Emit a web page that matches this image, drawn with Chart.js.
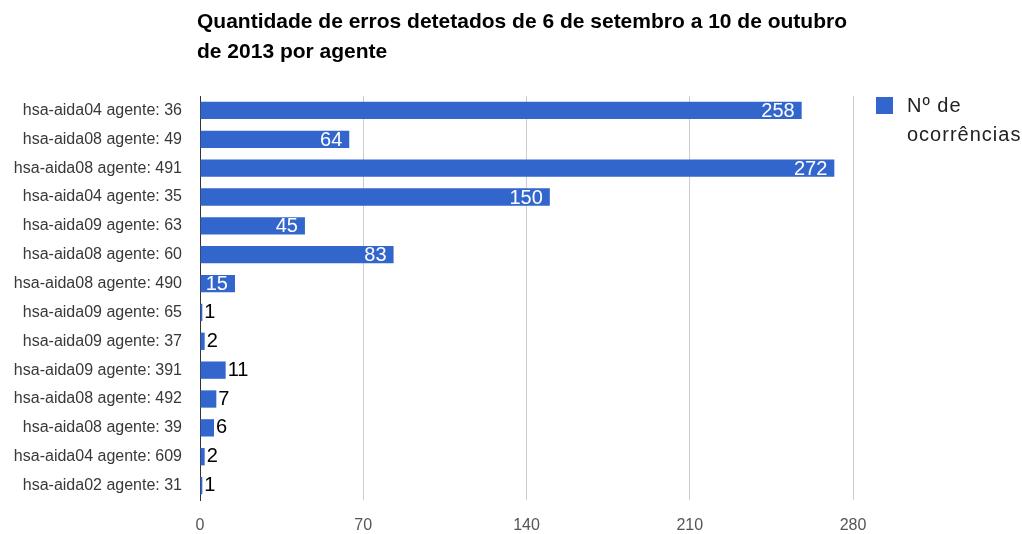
<!DOCTYPE html>
<html>
<head>
<meta charset="utf-8">
<script src="https://cdn.jsdelivr.net/npm/chart.js"></script>
<style>
  body { margin: 0; background: #fff; }
  canvas { display: block; }
</style>
</head>
<body>
<canvas id="errosChart" width="1022" height="534"></canvas>
<script>
// agentes e número de ocorrências (de cima para baixo)
const agentes = [
  "hsa-aida04 agente: 36",
  "hsa-aida08 agente: 49",
  "hsa-aida08 agente: 491",
  "hsa-aida04 agente: 35",
  "hsa-aida09 agente: 63",
  "hsa-aida08 agente: 60",
  "hsa-aida08 agente: 490",
  "hsa-aida09 agente: 65",
  "hsa-aida09 agente: 37",
  "hsa-aida09 agente: 391",
  "hsa-aida08 agente: 492",
  "hsa-aida08 agente: 39",
  "hsa-aida04 agente: 609",
  "hsa-aida02 agente: 31"
];
const ocorrencias = [258, 64, 272, 150, 45, 83, 15, 1, 2, 11, 7, 6, 2, 1];
const xTicks = [0, 70, 140, 210, 280];
const titulo = [
  "Quantidade de erros detetados de 6 de setembro a 10 de outubro",
  "de 2013 por agente"
];
const legenda = ["Nº de", "ocorrências"];

const AZUL = "#3366cc";
const FONTE = "'Liberation Sans', Arial, sans-serif";

// título, legenda e valores nas barras
const extras = {
  id: "extras",
  afterDatasetsDraw(chart) {
    const ctx = chart.ctx;
    const meta = chart.getDatasetMeta(0);
    ctx.save();
    ctx.font = "20px " + FONTE;
    ctx.textBaseline = "middle";
    meta.data.forEach((bar, i) => {
      const txt = String(ocorrencias[i]);
      const w = ctx.measureText(txt).width;
      const len = bar.x - bar.base;
      if (w + 10 < len) {
        ctx.fillStyle = "#fff";
        ctx.textAlign = "right";
        ctx.fillText(txt, bar.x - 7, bar.y + 1);
      } else {
        ctx.fillStyle = "#000";
        ctx.textAlign = "left";
        ctx.fillText(txt, bar.x + 2, bar.y);
      }
    });
    ctx.restore();
  },
  afterDraw(chart) {
    const ctx = chart.ctx;
    const area = chart.chartArea;
    ctx.save();
    // título
    ctx.fillStyle = "#000";
    ctx.font = "bold 21px " + FONTE;
    ctx.textAlign = "left";
    ctx.textBaseline = "middle";
    titulo.forEach((linha, i) => ctx.fillText(linha, area.left - 3, 22 + i * 30));

    // legenda
    const lx = area.right + 23;
    ctx.fillStyle = AZUL;
    ctx.fillRect(lx, area.top + 1, 17, 17);
    ctx.fillStyle = "#222";
    ctx.font = "20px " + FONTE;
    ctx.letterSpacing = "1px";
    legenda.forEach((linha, i) => ctx.fillText(linha, lx + 31, area.top + 10 + i * 29));
    ctx.restore();
  }
};

new Chart(document.getElementById("errosChart"), {
  type: "bar",
  data: {
    labels: agentes,
    datasets: [{
      label: legenda.join(" "),
      data: ocorrencias,
      backgroundColor: AZUL,
      borderWidth: 0,
      barPercentage: 0.6,
      categoryPercentage: 1
    }]
  },
  options: {
    indexAxis: "y",
    responsive: false,
    animation: false,
    layout: { padding: { top: 96, right: 169, bottom: 0, left: 0 } },
    plugins: {
      legend: { display: false },
      title: { display: false },
      tooltip: { enabled: false }
    },
    scales: {
      x: {
        min: 0,
        max: 280,
        afterBuildTicks: (scale) => { scale.ticks = xTicks.map(v => ({ value: v })); },
        afterFit: (scale) => { scale.height = 34; },
        border: { display: false },
        grid: {
          color: (c) => c.tick && c.tick.value === 0 ? "rgba(0,0,0,0)" : "#cccccc",
          drawTicks: false
        },
        ticks: {
          color: "#555",
          font: { family: FONTE, size: 16 },
          padding: 16
        }
      },
      y: {
        afterFit: (scale) => { scale.width = 200; },
        grid: { display: false, drawTicks: false },
        border: { display: true, color: "#333", width: 1 },
        ticks: {
          color: "#383838",
          font: { family: FONTE, size: 16 },
          padding: 18
        }
      }
    }
  },
  plugins: [extras]
});
</script>
</body>
</html>
